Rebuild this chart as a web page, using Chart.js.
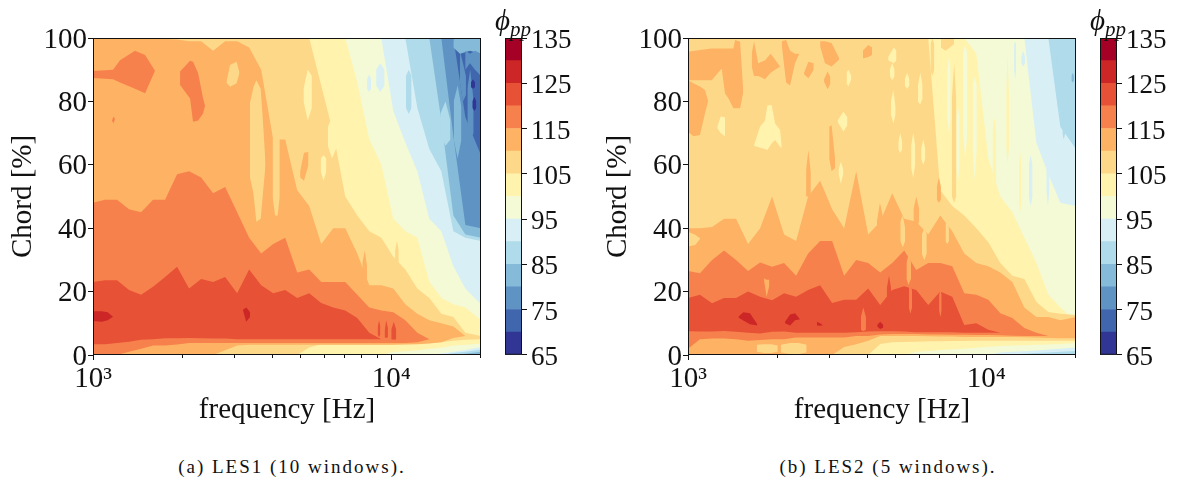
<!DOCTYPE html>
<html>
<head>
<meta charset="utf-8">
<script src="https://cdn.jsdelivr.net/npm/chart.js@4"></script>
<style>
  html, body { margin: 0; padding: 0; background: #fff; width: 1180px; height: 482px; overflow: hidden; }
  canvas { position: absolute; top: 0; }
  .cap { position: absolute; top: 456px; width: 300px; text-align: center; font: 19px "Liberation Serif", serif; letter-spacing: 2px; color: #111; white-space: nowrap; }
  .phi { position: absolute; top: 4px; font: italic 29px "Liberation Serif", serif; color: #111; white-space: nowrap; }
  .phi sub { font-size: 21px; vertical-align: -6px; line-height: 0; }
</style>
</head>
<body>
<canvas id="mapA" style="left:0"></canvas>
<canvas id="barA" style="left:496px"></canvas>
<canvas id="mapB" style="left:595px"></canvas>
<canvas id="barB" style="left:1091px"></canvas>
<div class="phi" style="left:495px">ϕ<sub>pp</sub></div>
<div class="phi" style="left:1090px">ϕ<sub>pp</sub></div>
<div class="cap" style="left:142px">(a) LES1 (10 windows).</div>
<div class="cap" style="left:738px">(b) LES2 (5 windows).</div>
<script>
// contour levels and colours of the colour bar
const levels = [65, 70, 75, 80, 85, 90, 95, 100, 105, 110, 115, 120, 125, 130, 135];
const bandColors = ['#313695', '#4067ad', '#5e93c4', '#85bbd8', '#afdbea', '#d8eff6', '#f3fad5', '#fff3ad', '#fed889', '#fdb264', '#f7814c', '#e75136', '#cc2627', '#a50026'];
const barTicks = [65, 75, 85, 95, 105, 115, 125, 135];
const chordTicks = [0, 20, 40, 60, 80, 100];
const majorFreq = [1000, 10000];
const minorFreq = [2000, 3000, 4000, 5000, 6000, 7000, 8000, 9000, 20000];

// frequency columns at which the contour edges were read [Hz]
const freq = [1000, 1097, 1204, 1321, 1449, 1590, 1745, 1914, 2100, 2304, 2528, 2774, 3043, 3339, 3664, 4020, 4410, 4839, 5309, 5825, 6391, 7012, 7694, 8441, 9262, 10162, 11149, 12232, 13421, 14725, 16156, 17726, 20000];
const chordTop = [100, 100, 100, 100, 100, 100, 100, 100, 100, 100, 100, 100, 100, 100, 100, 100, 100, 100, 100, 100, 100, 100, 100, 100, 100, 100, 100, 100, 100, 100, 100, 100, 100];
const chordBottom = [0, 0, 0, 0, 0, 0, 0, 0, 0, 0, 0, 0, 0, 0, 0, 0, 0, 0, 0, 0, 0, 0, 0, 0, 0, 0, 0, 0, 0, 0, 0, 0, 0];

// LES1: chord [%] of the upper and lower edge of the area above each level
const a75Up = [100, 100, 100, 100, 100, 100, 100, 100, 100, 100, 100, 100, 100, 100, 100, 100, 100, 100, 100, 100, 100, 100, 100, 100, 100, 100, 100, 100, 100, 100, 100, 75, 63];
const a80Up = [100, 100, 100, 100, 100, 100, 100, 100, 100, 100, 100, 100, 100, 100, 100, 100, 100, 100, 100, 100, 100, 100, 100, 100, 100, 100, 100, 100, 100, 100, 69, 41, 40];
const a85Up = [100, 100, 100, 100, 100, 100, 100, 100, 100, 100, 100, 100, 100, 100, 100, 100, 100, 100, 100, 100, 100, 100, 100, 100, 100, 100, 100, 100, 100, 74, 44, 38, 37];
const a85Lo = [0, 0, 0, 0, 0, 0, 0, 0, 0, 0, 0, 0, 0, 0, 0, 0, 0, 0, 0, 0, 0, 0, 0, 0, 0, 0, 0, 0, 0, 0, 0, 0.4, 1];
const a90Up = [100, 100, 100, 100, 100, 100, 100, 100, 100, 100, 100, 100, 100, 100, 100, 100, 100, 100, 100, 100, 100, 100, 100, 100, 100, 100, 100, 78, 65, 58, 39, 37, 36];
const a90Lo = [0, 0, 0, 0, 0, 0, 0, 0, 0, 0, 0, 0, 0, 0, 0, 0, 0, 0, 0, 0, 0, 0, 0, 0, 0, 0, 0, 0, 0, 0, 0.6, 1, 1.7];
const a95Up = [100, 100, 100, 100, 100, 100, 100, 100, 100, 100, 100, 100, 100, 100, 100, 100, 100, 100, 100, 100, 100, 100, 100, 100, 100, 77, 67, 58, 43, 39, 28, 21, 16];
const a95Lo = [0, 0, 0, 0, 0, 0, 0, 0, 0, 0, 0, 0, 0, 0, 0, 0, 0, 0, 0, 0, 0, 0, 0, 0, 0, 0, 0, 0, 0, 0.5, 1, 1.6, 2.5];
const a100Up = [100, 100, 100, 100, 100, 100, 100, 100, 100, 100, 100, 100, 100, 100, 100, 100, 100, 100, 100, 100, 100, 100, 86, 68, 60, 43, 39, 37, 23, 18, 16, 15, 11];
const a100Lo = [0, 0, 0, 0, 0, 0, 0, 0, 0, 0, 0, 0, 0, 0, 0, 0, 0, 0, 0, 0, 0, 0, 0, 0, 0, 1, 1.2, 1.5, 2, 2.3, 3, 3.2, 3.6];
const a105Up = [100, 100, 100, 100, 100, 100, 100, 100, 100, 100, 100, 100, 100, 100, 100, 100, 100, 100, 100, 85, 70, 50, 44, 39, 37, 31, 27, 21, 18, 13, 12, 7, 6];
const a105Lo = [0, 0, 0, 0, 0, 0, 0, 0, 0, 0, 0, 0, 0, 0, 0, 0, 0, 0, 2.4, 3.4, 3.4, 3.4, 3.4, 3.4, 3.4, 3.4, 3.8, 3.8, 3.8, 4, 4.5, 4.8, 5];
const a110Up = [100, 100, 100, 100, 100, 100, 99.7, 99.5, 99, 99, 96, 99, 99, 97, 90, 68, 68, 52, 47, 35, 40, 40, 32, 22, 22, 21, 16, 13, 11, 10, 9, 6, 5];
const a110Lo = [0, 0, 0, 0, 0, 0, 0, 0, 0, 0, 0, 1.5, 3, 3.2, 3.2, 3.2, 3.2, 3.2, 3.2, 3.2, 3.2, 3.2, 3.2, 3.2, 3.2, 3.2, 3.3, 3.4, 3.6, 4, 5.4, 6, 5];
const a115Up = [48, 49, 49, 46, 45, 49, 49, 57, 58, 56, 51, 53, 45, 37, 32, 35, 37, 26, 27, 23, 23, 23, 19, 15, 14, 13.5, 11, 7, 5, 5, 5, 5, 5];
const a115Lo = [0, 0, 0, 1, 2, 3, 3, 3.3, 3.8, 3.8, 3.8, 3.8, 3.8, 3.8, 3.8, 3.8, 3.8, 3.8, 3.8, 3.8, 3.8, 3.8, 3.8, 3.8, 3.8, 3.8, 3.8, 4, 5, 5, 5, 5, 5];
const a120Up = [23, 23.6, 23.6, 20.5, 19, 21.5, 24.6, 27.8, 21, 24, 23, 24.6, 19.5, 27, 22, 19.5, 20.5, 18, 19.5, 16.4, 15, 14, 11.7, 7, 5, 5, 5, 5, 5, 5, 5, 5, 5];
const a120Lo = [3.4, 3.4, 3.8, 4.2, 4.8, 5, 5.3, 5.3, 5.4, 5.3, 5.2, 5.2, 5, 5, 5, 5, 5, 5, 5, 5, 5, 5, 5, 5, 5, 5, 5, 5, 5, 5, 5, 5, 5];

// LES1 islands: band, frequencies, upper edge, lower edge
const patchesA = [
  [10, [1000, 1167, 1232, 1383, 1495, 1614], [89.6, 90, 93, 96, 94.6, 89.7], [87.4, 87, 86, 84, 82.6, 89.7]],
  [10, [1959, 2116, 2165, 2252, 2339, 2375], [89.4, 92.8, 92.5, 88.9, 81, 78.7], [85.2, 80.9, 73.6, 74, 76.2, 78.7]],
  [10, [1158, 1172, 1185], [74, 75.2, 74.5], [74, 73, 74.5]],
  [8, [2800, 2880, 3030, 3100], [86, 91.5, 92.5, 89], [86, 84.6, 85.7, 89]],
  [8, [3360, 3450, 3530, 3650, 3730, 3790], [79.5, 84.5, 86.7, 84, 71, 60], [56, 51, 42, 43, 53, 60]],
  [8, [4000, 4080, 4160, 4230], [68, 78, 81, 72], [50, 44, 44, 50]],
  [9, [4950, 5100, 5280], [58, 63.8, 64], [56, 55, 60]],
  [9, [8000, 8150, 8300], [29, 33, 28], [22, 21, 22]],
  [8, [10300, 10450, 10600], [33, 36, 33], [28, 27, 28]],
  [7, [5080, 5250, 5420], [84, 90, 88], [80, 74, 78]],
  [7, [6130, 6330, 6600], [72, 75, 73], [66, 62, 66]],
  [7, [5800, 5930, 6060], [62, 63, 62], [58, 55, 58]],
  [5, [8900, 9180, 9500], [90, 92, 90], [85, 83, 85]],
  [5, [8300, 8430, 8560], [87, 88.5, 87], [84, 83, 84]],
  [4, [11200, 11450, 11700], [88, 90, 88], [78, 76, 78]],
  [4, [14600, 15200, 15800], [76, 80, 74], [70, 66, 68]],
  [3, [16200, 16700, 17200], [80, 85, 78], [68, 62, 68]],
  [2, [18000, 18400, 18900], [84, 90, 80], [72, 68, 70]],
  [2, [17000, 17400, 17800], [96, 92, 88], [86, 80, 82]],
  [11, [9000, 9100, 9200], [8.5, 11, 9], [6.5, 5.6, 6.5]],
  [11, [9500, 9620, 9750], [7.5, 11, 8.5], [5.6, 5.4, 5.6]],
  [11, [10000, 10200, 10400], [8, 10.5, 8], [5, 4.8, 5]],
  [12, [1000, 1070, 1120, 1167], [13.8, 13.8, 13.5, 12.1], [10.7, 10.5, 11, 12.1]],
  [12, [3186, 3264, 3363], [14.3, 15, 13.5], [14, 10.5, 12]],
  [3, [16156, 17010, 18375, 20000], [100, 100, 100, 100], [97, 95, 96, 95]],
  [2, [17700, 18375, 19100, 20000], [96, 95, 96, 95], [90, 92, 90, 88]],
  [0, [18500, 18800, 19100], [86, 87, 86], [84.5, 84, 84.5]],
  [0, [18700, 19000, 19300], [80, 81.5, 80], [78, 77, 78]]
];

// LES2: same kind of edges
const b90Up = [100, 100, 100, 100, 100, 100, 100, 100, 100, 100, 100, 100, 100, 100, 100, 100, 100, 100, 100, 100, 100, 100, 100, 100, 100, 100, 100, 100, 100, 100, 100, 72, 65];
const b90Lo = [0, 0, 0, 0, 0, 0, 0, 0, 0, 0, 0, 0, 0, 0, 0, 0, 0, 0, 0, 0, 0, 0, 0, 0, 0, 0, 0, 0.2, 0.4, 0.6, 0.8, 1, 1.3];
const b95Up = [100, 100, 100, 100, 100, 100, 100, 100, 100, 100, 100, 100, 100, 100, 100, 100, 100, 100, 100, 100, 100, 100, 100, 100, 100, 100, 100, 100, 100, 67, 57, 48, 47];
const b95Lo = [0, 0, 0, 0, 0, 0, 0, 0, 0, 0, 0, 0, 0, 0, 0, 0, 0, 0, 0, 0, 0, 0, 0, 0, 0, 0, 0.8, 1, 1.2, 1.4, 1.7, 2, 2.4];
const b100Up = [100, 100, 100, 100, 100, 100, 100, 100, 100, 100, 100, 100, 100, 100, 100, 100, 100, 100, 100, 100, 100, 100, 100, 100, 95, 62, 50, 45, 37, 29, 19, 15, 10.4];
const b100Lo = [0, 0, 0, 0, 0, 0, 0, 0, 0, 0, 0, 0, 0, 0, 0, 0, 0, 0, 0, 1, 1.3, 1.6, 1.8, 2, 2.3, 2.6, 2.8, 3, 3.1, 3.2, 3.3, 3.5, 3.8];
const b105Up = [100, 100, 100, 100, 100, 100, 100, 100, 100, 100, 100, 100, 100, 100, 100, 100, 100, 100, 100, 100, 100, 52, 47, 44, 40, 35.6, 29, 25, 24, 16.7, 13.6, 13, 12.6];
const b105Lo = [0, 0, 0, 0, 0, 0, 0, 0, 0, 0, 0, 0, 0, 0, 0, 0, 3.5, 4, 4.1, 4.2, 4.3, 4.3, 4.4, 4.4, 4.5, 4.5, 4.5, 4.5, 4.5, 4.5, 4.5, 4.5, 4.5];
const b110Up = [40, 40, 40.4, 43, 43, 35, 40, 50, 38, 36, 50, 55, 46, 40, 58, 38, 42, 51, 43, 42, 38, 44, 39, 32, 29, 28, 26, 23, 15, 12, 12, 11, 12];
const b110Lo = [0, 0, 0, 0, 0, 0, 0, 0, 0, 0, 0, 0, 0, 2.5, 3.4, 4.5, 6, 6, 6, 6, 5.9, 5.8, 5.8, 5.7, 5.7, 5.7, 5.7, 5.7, 5.6, 5.5, 5.4, 5.3, 5.3];
const b115Up = [26.5, 25.8, 30, 33, 30, 26.5, 29.2, 27.8, 29, 25, 32, 36, 36, 25, 30, 29, 26, 29, 33, 26.8, 29, 29, 28, 19.5, 19, 17.4, 13.2, 11.7, 8.5, 7, 6, 6, 6];
const b115Lo = [2, 5, 5.2, 5.2, 5, 4.5, 4.7, 5, 5, 5.5, 5.5, 5.5, 5.5, 5.5, 6, 6, 6.5, 6.6, 6.6, 6.6, 6.5, 6.5, 6.4, 6.4, 6.3, 6.3, 6.2, 6.1, 6, 6, 6, 6, 6];
const b120Up = [18, 19, 16.3, 18, 18, 20, 18.4, 17.3, 19.5, 18.4, 20.5, 22, 16.4, 17.4, 17.4, 21, 15.8, 20.5, 21.7, 20.5, 15.8, 20, 18.4, 9.5, 10, 8, 7, 7, 7, 7, 7, 7, 7];
const b120Lo = [7.5, 7.4, 7.4, 7.6, 7.3, 7, 6.8, 7.3, 7.4, 7, 7, 7, 7, 7, 7.2, 7.4, 7.5, 7.5, 7.4, 7.2, 7.2, 7.2, 7.2, 7, 7, 7, 7, 7, 7, 7, 7, 7, 7];

// LES2 islands and streaks
const patchesB = [
  [9, [1000, 1042, 1097, 1140, 1170], [86.7, 85.7, 84.7, 83.6, 79.9], [70.4, 69, 69.4, 76.2, 80.4]],
  [9, [1000, 1097, 1201, 1297, 1331, 1366, 1420, 1438, 1495, 1533], [95.7, 96.2, 96.7, 96.7, 96.7, 96.7, 96.7, 99.4, 98.8, 83], [86.7, 86.7, 86.7, 90.4, 82.5, 81, 77.8, 77.8, 77.8, 83]],
  [9, [1635, 1665, 1720, 1813, 1893, 2036], [95, 99, 92, 93, 95, 91], [91, 88, 88, 87, 89, 91]],
  [9, [2061, 2133, 2199, 2285, 2360], [99, 99.4, 96, 95, 95], [98, 86, 85, 92, 95]],
  [9, [2450, 2534, 2640], [89, 92.5, 92], [88.6, 87.3, 90]],
  [9, [2774, 2880, 3030, 3213], [99, 99, 98.4, 93.6], [97.3, 92, 91, 93.2]],
  [9, [2859, 2937, 3003], [87, 89.4, 87.6], [86.2, 83.8, 85.6]],
  [9, [2975, 3030, 3112], [72, 72.5, 62], [62, 58, 59]],
  [9, [3857, 4022, 4140], [96, 97.8, 97], [93.5, 94, 94.6]],
  [9, [2489, 2534, 2582], [58.4, 64.7, 57.3], [50, 50, 50]],
  [7, [1665, 1744, 1813, 1846, 1909, 1959, 2036, 2061], [66.2, 72, 74, 78.8, 78.8, 73, 71, 66.5], [66, 65.4, 65, 64.7, 66.8, 67.8, 65.7, 65.2]],
  [7, [1254, 1287, 1331], [72, 75.2, 75], [71.5, 70, 69]],
  [7, [3400, 3450, 3530], [89, 90, 88], [85.7, 84.8, 87]],
  [7, [3176, 3320, 3425], [74, 76.7, 75], [73.5, 70.5, 72.5]],
  [7, [3198, 3254, 3320], [58.4, 61, 58.4], [57.3, 54, 57.3]],
  [7, [4690, 4900, 5000], [94, 97, 96], [93, 92, 93]],
  [7, [4750, 4839, 4930], [90, 92, 90], [88, 86.7, 88]],
  [7, [4790, 4880, 4970], [80, 83.6, 78], [76, 73, 76]],
  [7, [5900, 6010, 6120], [85, 89, 85], [80, 79, 81]],
  [7, [5070, 5150, 5230], [67, 70, 67], [65, 63.7, 65]],
  [7, [5600, 5690, 5780], [66, 70, 66], [59, 56, 60]],
  [7, [6050, 6150, 6250], [65, 68, 65], [62, 60, 62]],
  [7, [5330, 5430, 5530], [87, 89, 87], [85, 84, 85]],
  [8, [7672, 7808, 7932], [81, 92, 81], [50, 48, 50]],
  [8, [7050, 7300, 7550, 7800], [100, 100, 100, 100], [97, 96, 97, 98]],
  [8, [6500, 6600, 6700], [98, 100, 98], [90, 88, 90]],
  [6, [7400, 7500, 7600], [90, 94, 90], [75, 70, 75]],
  [6, [8350, 8500, 8650], [95, 98, 95], [70, 62, 70]],
  [6, [9000, 9150, 9300], [85, 88, 85], [65, 55, 65]],
  [6, [7950, 8050, 8150], [75, 78, 75], [60, 55, 60]],
  [7, [11670, 11790, 11920], [81.5, 95.2, 81.5], [65.7, 60.4, 65.7]],
  [7, [10500, 10650, 10800], [70, 75, 70], [55, 50, 55]],
  [7, [12900, 13000, 13100], [60, 64, 60], [48, 45, 48]],
  [9, [6830, 6940, 7050], [53, 56, 53], [49, 48, 49]],
  [5, [14900, 15100, 15300], [80, 84, 80], [72, 68, 72]],
  [5, [13100, 13300, 13500], [94, 96, 94], [92, 91, 92]],
  [5, [13900, 14100, 14300], [60, 63, 60], [50, 47, 50]],
  [5, [12400, 12500, 12600], [98, 99, 98], [90, 87, 90]],
  [5, [15900, 16100, 16300], [60, 65, 60], [52, 47, 52]],
  [4, [17200, 17400, 17600], [92, 95, 92], [82, 78, 82]],
  [4, [18000, 18200, 18400], [75, 78, 75], [70, 68, 70]],
  [3, [19300, 19500, 19700], [88, 89, 88], [86.5, 86, 86.5]],
  [8, [1000, 1057, 1097], [38.9, 37.9, 36.8], [34.2, 34.7, 36.6]],
  [8, [1700, 1800, 1900, 2000], [3.2, 3.4, 3.4, 3], [1, 0.6, 0.6, 1]],
  [8, [2050, 2200, 2350, 2500], [3.2, 3.8, 3.8, 3.2], [0.8, 0.3, 0.3, 0.8]],
  [9, [5700, 5830, 5960], [46, 50, 46], [42, 40, 42]],
  [9, [4300, 4400, 4500], [42, 48, 44], [36, 36, 38]],
  [8, [5150, 5250, 5350], [42, 44, 40], [36, 34, 36]],
  [8, [6080, 6200, 6320], [38, 40, 38], [32, 30, 32]],
  [8, [7300, 7400, 7500], [41, 44, 40], [36, 35, 36]],
  [9, [5400, 5500, 5600], [29, 32, 29], [24, 22, 24]],
  [9, [1799, 1835, 1875], [24.2, 23.7, 23.7], [23.4, 18.4, 22]],
  [10, [3800, 3870, 3950], [12, 15, 12], [8, 7.5, 8]],
  [10, [5500, 5570, 5640], [22, 24, 20], [15, 13, 15]],
  [10, [6950, 7020, 7090], [19, 21, 19], [14, 12, 14]],
  [11, [4640, 4720, 4800], [21, 25, 21], [15, 14, 15]],
  [12, [1475, 1533, 1614, 1708], [12.1, 13.5, 13.2, 9.7], [11.8, 10.9, 9.7, 9.3]],
  [12, [2116, 2199, 2285, 2375], [10.5, 12.8, 13.2, 11.3], [10, 9.3, 11, 11.3]],
  [12, [2705, 2770, 2838], [10.5, 10, 9.4], [9.3, 9.2, 9.4]],
  [12, [4310, 4410, 4520], [9.5, 10.5, 9.5], [9, 8.2, 8.7]]
];

const regionsA = [
  [1, chordTop, chordBottom], [2, a75Up, chordBottom], [3, a80Up, chordBottom], [4, a85Up, a85Lo], [5, a90Up, a90Lo], [6, a95Up, a95Lo],
  [7, a100Up, a100Lo], [8, a105Up, a105Lo], [9, a110Up, a110Lo], [10, a115Up, a115Lo], [11, a120Up, a120Lo]
];
const regionsB = [
  [4, chordTop, chordBottom], [5, b90Up, b90Lo], [6, b95Up, b95Lo], [7, b100Up, b100Lo], [8, b105Up, b105Lo],
  [9, b110Up, b110Lo], [10, b115Up, b115Lo], [11, b120Up, b120Lo]
];

const serif = '"Liberation Serif", serif';
const ink = '#111';

// spines and the short minor ticks, which chart.js cannot size separately
const framePlugin = {
  id: 'frame',
  afterDatasetsDraw(chart) {
    const { ctx, chartArea: a, scales } = chart;
    ctx.save();
    ctx.strokeStyle = '#111';
    ctx.lineWidth = 1;
    ctx.strokeRect(a.left + 0.5, a.top + 0.5, a.right - a.left - 1, a.bottom - a.top - 1);
    if (chart.config.type === 'line') {
      ctx.beginPath();
      minorFreq.forEach((f) => {
        const x = Math.round(scales.x.getPixelForValue(f)) - 0.5;
        ctx.moveTo(x, a.bottom);
        ctx.lineTo(x, a.bottom + 3);
      });
      ctx.stroke();
    }
    ctx.restore();
  }
};

function buildDatasets(regions, patches) {
  const painted = regions.map(([band, up, lo]) => [band, freq, up, lo]).concat(patches);
  const datasets = [];
  // chart.js paints the last dataset first, so the pairs go in front-to-back
  painted.forEach(([band, fs, up, lo]) => {
    const line = (ys, fill) => ({
      data: fs.map((f, i) => ({ x: f, y: ys[i] })),
      borderWidth: 0,
      pointRadius: 0,
      backgroundColor: bandColors[band],
      fill
    });
    datasets.unshift(line(lo, false));
    datasets.unshift(line(up, '+1'));
  });
  return datasets;
}

function drawMap(id, regions, patches) {
  const canvas = document.getElementById(id);
  canvas.style.width = '490px';
  canvas.style.height = '432px';
  new Chart(canvas, {
    type: 'line',
    data: { datasets: buildDatasets(regions, patches) },
    options: {
      responsive: false,
      animation: false,
      layout: { padding: { top: 38, right: 9 } },
      plugins: { legend: { display: false }, tooltip: { enabled: false } },
      scales: {
        x: {
          type: 'logarithmic',
          min: 1000,
          max: 20000,
          afterBuildTicks: (s) => { s.ticks = majorFreq.map((value) => ({ value })); },
          afterFit: (s) => { s.height = 77; },
          grid: { drawOnChartArea: false, tickLength: 5, tickColor: ink },
          border: { display: false },
          ticks: {
            autoSkip: false,
            maxRotation: 0,
            padding: 2,
            color: ink,
            font: { family: serif, size: 29 },
            callback: (v) => (v === 1000 ? '10³' : '10⁴')
          },
          title: { display: true, text: 'frequency [Hz]', color: ink, font: { family: serif, size: 29 }, padding: { top: 0, bottom: 4 } }
        },
        y: {
          min: 0,
          max: 100,
          afterBuildTicks: (s) => { s.ticks = chordTicks.map((value) => ({ value })); },
          afterFit: (s) => { s.width = 93; },
          grid: { drawOnChartArea: false, tickLength: 5, tickColor: ink },
          border: { display: false },
          ticks: { padding: 1, labelOffset: 2, color: ink, font: { family: serif, size: 29 } },
          title: { display: true, text: 'Chord [%]', color: ink, font: { family: serif, size: 29 }, padding: { top: 6, bottom: 0 } }
        }
      }
    },
    plugins: [framePlugin]
  });
}

function drawBar(id) {
  const canvas = document.getElementById(id);
  canvas.style.width = '90px';
  canvas.style.height = '375px';
  new Chart(canvas, {
    type: 'bar',
    data: {
      labels: ['ϕ'],
      datasets: bandColors.map((color, i) => ({
        data: [[levels[i], levels[i + 1]]],
        backgroundColor: color,
        borderWidth: 0,
        grouped: false,
        barPercentage: 1,
        categoryPercentage: 1
      }))
    },
    options: {
      responsive: false,
      animation: false,
      layout: { padding: { top: 38, left: 9, bottom: 20 } },
      plugins: { legend: { display: false }, tooltip: { enabled: false } },
      scales: {
        x: { display: false },
        y: {
          position: 'right',
          min: 65,
          max: 135,
          afterBuildTicks: (s) => { s.ticks = barTicks.map((value) => ({ value })); },
          afterFit: (s) => { s.width = 64; },
          grid: { drawOnChartArea: false, tickLength: 5, tickColor: ink },
          border: { display: false },
          ticks: { padding: 4, labelOffset: 3, color: ink, font: { family: serif, size: 27 } }
        }
      }
    },
    plugins: [framePlugin]
  });
}

['mapA', 'mapB', 'barA', 'barB'].forEach((id) => {
  const c = document.getElementById(id);
  c.width = id.startsWith('map') ? 490 : 90;
  c.height = id.startsWith('map') ? 432 : 375;
});
drawMap('mapA', regionsA, patchesA);
drawMap('mapB', regionsB, patchesB);
drawBar('barA');
drawBar('barB');
</script>
</body>
</html>
